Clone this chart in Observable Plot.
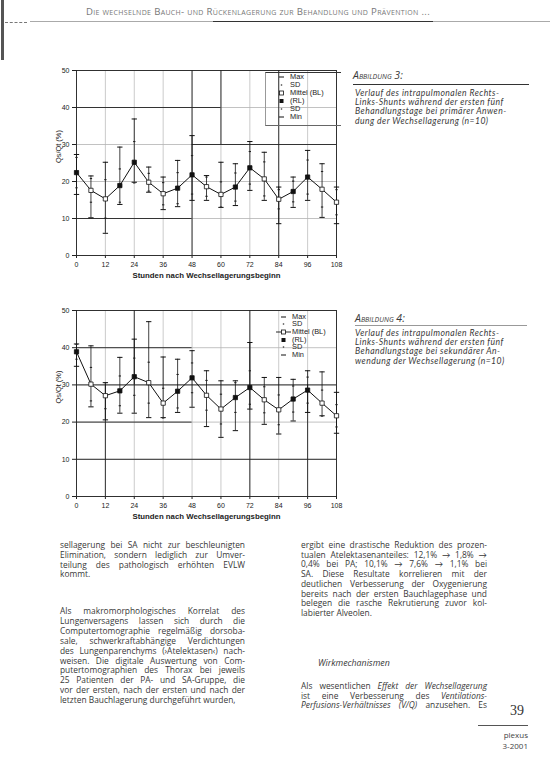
<!DOCTYPE html>
<html><head><meta charset="utf-8">
<script src="https://cdn.jsdelivr.net/npm/d3@7"></script>
<script src="https://cdn.jsdelivr.net/npm/@observablehq/plot@0.6"></script>
<style>
body{margin:0;background:#fff;}
#page{position:relative;width:550px;height:773px;overflow:hidden;background:#fff;font-family:"Open Sans",Lato,sans-serif;color:#383838;}
.abs{position:absolute;}
.col div{white-space:nowrap;}
.cap{font-family:Lato,sans-serif;font-style:italic;font-size:8.6px;line-height:9.4px;letter-spacing:0.45px;color:#3a3a3a;}
.cap div{white-space:nowrap;height:9.4px;}
.caphead{font-style:italic;font-variant:small-caps;font-size:10.5px;color:#3a3a3a;}
.legend{font-family:"Liberation Sans",Arial,sans-serif;font-size:7.4px;color:#222;}
.legend .row{position:absolute;left:0;height:8px;line-height:8px;white-space:nowrap;}
.legend svg{position:absolute;top:0;}
</style></head>
<body><div id="page"></div>
<script>
// ---------------- data ----------------
const hours = [0,6,12,18,24,30,36,42,48,54,60,66,72,78,84,90,96,102,108];
const position = ["RL","BL","BL","RL","RL","BL","BL","RL","RL","BL","BL","RL","RL","BL","BL","RL","RL","BL","BL"];
// Abbildung 3 (primäre Anwendung)
const mean3 = [22.4,17.6,15.3,18.9,25.2,19.8,16.7,18.2,21.8,18.6,16.5,18.5,23.7,20.7,15.2,17.3,21.2,17.9,14.4];
const max3  = [27.3,21.5,25.2,29.3,36.9,23.9,21.2,25.7,32.4,21.6,25.2,24.8,30.8,27.9,18.5,21.2,28.4,24.8,18.5];
const min3  = [16.5,10.2, 6.0,13.8,19.8,17.1,12.4,13.2,14.9,14.9,13.0,13.5,17.6,14.9, 8.6,13.0,14.9,10.3, 8.6];
const sd3   = [ 4.1, 3.2, 5.2, 4.5, 5.6, 2.4, 3.0, 4.2, 5.2, 2.6, 3.4, 3.8, 4.4, 4.6, 2.6, 2.8, 4.6, 4.8, 3.4];
// Abbildung 4 (sekundäre Anwendung)
const mean4 = [38.9,30.2,27.1,28.4,32.2,30.6,25.1,28.3,31.9,27.2,23.5,26.6,29.3,26.0,23.3,26.2,28.6,25.1,21.7];
const max4  = [41.0,40.5,30.6,37.4,42.3,47.0,37.5,36.9,39.2,33.8,31.1,31.1,41.4,32.0,32.0,31.5,33.8,33.5,28.0];
const min4  = [35.0,24.1,20.6,22.4,22.4,21.2,21.2,22.6,24.0,18.8,15.9,17.7,23.5,19.4,16.8,20.3,22.6,21.7,17.0];
const sd4   = [ 2.0, 4.5, 3.5, 4.0, 5.0, 5.5, 4.0, 4.5, 4.0, 4.0, 4.0, 4.0, 4.5, 3.5, 4.0, 3.5, 3.5, 3.5, 3.0];
const xTicks = [0,12,24,36,48,60,72,84,96,108];
const yTicks = [0,10,20,30,40,50];
const xLabel = "Stunden nach Wechsellagerungsbeginn";
const yLabel = "Qs/Qt (%)";
const legendLabels = ["Max","SD","Mittel (BL)","(RL)","SD","Min"];
// darker grid segments visible in the print (data units)
const dark3H = [{at:40,from:0,to:60},{at:30,from:48,to:108},{at:10,from:0,to:48}];
const dark3V = [{at:48,from:0,to:50},{at:60,from:30,to:50},{at:84,from:0,to:50}];
const dark4H = [{at:40,from:0,to:48},{at:30,from:0,to:108},{at:20,from:0,to:48},{at:10,from:0,to:108}];
const dark4V = [{at:12,from:0,to:30},{at:24,from:30,to:50},{at:72,from:0,to:50},{at:96,from:0,to:30}];

const header = "Die wechselnde Bauch- und Rückenlagerung zur Behandlung und Prävention ...";
const cap3Head = "Abbildung 3:";
const cap3 = ["Verlauf des intrapulmonalen Rechts-","Links-Shunts während der ersten fünf","Behandlungstage bei primärer Anwen-","dung der Wechsellagerung (n=10)"];
const cap4Head = "Abbildung 4:";
const cap4 = ["Verlauf des intrapulmonalen Rechts-","Links-Shunts während der ersten fünf","Behandlungstage bei sekundärer An-","wendung der Wechsellagerung (n=10)"];
const leftPara1 = ["sellagerung bei SA nicht zur beschleunigten","Elimination, sondern lediglich zur Umver-","teilung des pathologisch erhöhten EVLW","kommt."];
const leftPara2 = ["Als makromorphologisches Korrelat des","Lungenversagens lassen sich durch die","Computertomographie regelmäßig dorsoba-","sale, schwerkraftabhängige Verdichtungen","des Lungenparenchyms (›Atelektasen‹) nach-","weisen. Die digitale Auswertung von Com-","putertomographien des Thorax bei jeweils","25 Patienten der PA- und SA-Gruppe, die","vor der ersten, nach der ersten und nach der","letzten Bauchlagerung durchgeführt wurden,"];
const rightPara1 = ["ergibt eine drastische Reduktion des prozen-","tualen Atelektasenanteiles: 12,1% → 1,8% →","0,4% bei PA; 10,1% → 7,6% → 1,1% bei","SA. Diese Resultate korrelieren mit der","deutlichen Verbesserung der Oxygenierung","bereits nach der ersten Bauchlagephase und","belegen die rasche Rekrutierung zuvor kol-","labierter Alveolen."];
const rightHead = "Wirkmechanismen";
const rightPara2 = ["Als wesentlichen <i>Effekt der Wechsellagerung</i>","ist eine Verbesserung des <i>Ventilations-</i>","<i>Perfusions-Verhältnisses (V/Q)</i> anzusehen. Es"];
const pageNo = "39", journal = "plexus", issue = "3-2001";

// ---------------- build ----------------
const page = document.getElementById("page");
function add(html, css, cls) {
  const d = document.createElement("div");
  d.className = "abs " + (cls || "");
  d.style.cssText = css;
  d.innerHTML = html;
  page.appendChild(d);
  return d;
}
function rowsOf(mean, max, min, sd) {
  return hours.map((h, i) => ({hour: h, pos: position[i], mean: mean[i], max: max[i], min: min[i], sdHi: mean[i] + sd[i], sdLo: mean[i] - sd[i]}));
}
const dash = {draw(ctx, size) { const r = Math.sqrt(size) / 2; ctx.moveTo(-r, 0); ctx.lineTo(r, 0); }};

function chart(rows, darkH, darkV, height, marginBottom) {
  return Plot.plot({
    width: 305, height,
    marginLeft: 36, marginRight: 9, marginTop: 10, marginBottom,
    style: {fontFamily: "'Liberation Sans', Arial, sans-serif", fontSize: "7px", color: "#222", background: "transparent", overflow: "visible"},
    x: {domain: [0, 108], ticks: xTicks, tickSize: 3, tickPadding: 4, label: null, tickFormat: d => String(d)},
    y: {domain: [0, 50], ticks: yTicks, tickSize: 4, tickPadding: 3, label: null},
    marks: [
      Plot.ruleY(yTicks, {stroke: "#a8a8a8", strokeWidth: 0.7}),
      Plot.ruleX(xTicks, {stroke: "#b4b4b4", strokeWidth: 0.7}),
      Plot.ruleY(darkH, {y: "at", x1: "from", x2: "to", stroke: "#222", strokeWidth: 0.9}),
      Plot.ruleX(darkV, {x: "at", y1: "from", y2: "to", stroke: "#222", strokeWidth: 0.9}),
      Plot.frame({stroke: "#222", strokeWidth: 0.9}),
      Plot.ruleX(rows, {x: "hour", y1: "min", y2: "max", stroke: "#111", strokeWidth: 0.8}),
      Plot.dot(rows, {x: "hour", y: "max", symbol: dash, r: 3, stroke: "#111", fill: "none", strokeWidth: 1}),
      Plot.dot(rows, {x: "hour", y: "min", symbol: dash, r: 3, stroke: "#111", fill: "none", strokeWidth: 1}),
      Plot.dot(rows, {x: "hour", y: "sdHi", symbol: dash, r: 1.3, stroke: "#222", fill: "none", strokeWidth: 1.1}),
      Plot.dot(rows, {x: "hour", y: "sdLo", symbol: dash, r: 1.3, stroke: "#222", fill: "none", strokeWidth: 1.1}),
      Plot.line(rows, {x: "hour", y: "mean", stroke: "#111", strokeWidth: 1}),
      Plot.dot(rows.filter(d => d.pos === "BL"), {x: "hour", y: "mean", symbol: "square", r: 2.4, fill: "white", stroke: "#111", strokeWidth: 0.8}),
      Plot.dot(rows.filter(d => d.pos === "RL"), {x: "hour", y: "mean", symbol: "square", r: 2.4, fill: "#111", stroke: "#111", strokeWidth: 0.8}),
      Plot.text([xLabel], {frameAnchor: "bottom", dy: 22, fontWeight: "bold", fontSize: 7.8, fill: "#222"}),
      Plot.text([yLabel], {frameAnchor: "left", rotate: -90, dx: -18, fontSize: 7.4, fill: "#222"})
    ]
  });
}

function legend(left, top, step, box, lineMean) {
  const L = add("", `left:${left}px;top:${top}px;width:75px;height:${6*step+4}px;` + (box ? "border-top:1px solid #333;border-left:1px solid #999;border-bottom:1px solid #666;" : ""), "legend");
  const syms = [
    '<line x1="8" x2="13" y1="4" y2="4" stroke="#111" stroke-width="1"/>',
    '<line x1="9.8" x2="11.2" y1="4" y2="4" stroke="#222" stroke-width="1.2"/>',
    (lineMean ? '<line x1="3" x2="18" y1="4" y2="4" stroke="#111" stroke-width="0.9"/>' : '') + '<rect x="8.5" y="2" width="4" height="4" fill="#fff" stroke="#111" stroke-width="0.8"/>',
    '<rect x="8.5" y="2" width="4" height="4" fill="#111"/>',
    '<line x1="9.8" x2="11.2" y1="4" y2="4" stroke="#222" stroke-width="1.2"/>',
    '<line x1="8" x2="13" y1="4" y2="4" stroke="#111" stroke-width="1"/>'
  ];
  legendLabels.forEach((t, i) => {
    const r = document.createElement("div");
    r.className = "row";
    r.style.top = (i * step) + "px";
    r.innerHTML = `<svg width="22" height="8" style="left:5px">${syms[i]}</svg><span style="position:absolute;left:24px">${t}</span>`;
    L.appendChild(r);
  });
}

// justified lines: distribute extra space between words, shrink letters if too long
function para(lines, left, top, width, lh, size, justifyLast) {
  const box = add("", `left:${left}px;top:${top}px;width:${width}px;font-size:${size}px;line-height:${lh}px;`, "col");
  lines.forEach((t, i) => {
    const d = document.createElement("div");
    const s = document.createElement("span");
    s.innerHTML = t;
    d.appendChild(s);
    box.appendChild(d);
    const last = i === lines.length - 1 && !justifyLast;
    const w = s.getBoundingClientRect().width;
    const gaps = (s.textContent.match(/ /g) || []).length;
    if (w > width) {
      const n = s.textContent.length;
      d.style.letterSpacing = ((width - w) / n) + "px";
    } else if (!last && gaps > 0) {
      d.style.wordSpacing = ((width - w) / gaps) + "px";
    }
  });
  return box;
}

// header
add("", "left:1px;top:0;width:3px;height:60px;background:#555;");
add(header, "left:86px;top:5px;font-variant:small-caps;font-size:9.6px;letter-spacing:0.32px;color:#777;white-space:nowrap;");
add("", "left:30px;top:21px;width:520px;height:0;border-top:1px solid #aaa;");
add("", "left:213px;top:21px;width:220px;height:0;border-top:1px solid #333;");
add("", "left:5px;top:22px;width:22px;height:0;border-top:1px dashed #777;");

// chart 1
const c1 = chart(rowsOf(mean3, max3, min3, sd3), dark3H, dark3V, 225, 30);
add("", "left:40px;top:60px;").appendChild(c1);
legend(265, 72, 8, true, false);
// caption 1
add(cap3Head, "left:353px;top:68px;", "caphead");
add("", "left:353px;top:84px;width:176px;height:0;border-top:1px solid #333;");
add(cap3.map(t => `<div>${t}</div>`).join(""), "left:355px;top:88.5px;", "cap");

// chart 2
const c2 = chart(rowsOf(mean4, max4, min4, sd4), dark4H, dark4V, 228, 32);
add("", "left:40px;top:300px;").appendChild(c2);
legend(268, 312.5, 7.7, false, true);
// caption 2
add(cap4Head, "left:355px;top:311px;", "caphead");
add("", "left:355px;top:325px;width:172px;height:0;border-top:1px solid #999;");
add(cap4.map(t => `<div>${t}</div>`).join(""), "left:355px;top:328.5px;", "cap");

// body text
para(leftPara1, 60, 540, 185, 9.8, 8.4, false);
para(leftPara2, 60, 606, 185, 9.9, 8.4, false);
para(rightPara1, 301, 540, 186, 9.7, 8.4, false);
add(rightHead, "left:318px;top:657px;font-style:italic;font-size:8.8px;");
para(rightPara2, 301, 681, 186, 9.7, 8.4, true);

// page number
add(pageNo, "left:498px;top:703px;width:26px;text-align:right;font-size:14px;color:#333;font-family:'Liberation Serif',serif;");
add("", "left:478px;top:725px;width:50px;height:0;border-top:1px solid #555;");
add(journal + "<br>" + issue, "left:478px;top:729px;width:50px;text-align:right;font-size:8px;line-height:11px;color:#444;");
</script></body></html>
